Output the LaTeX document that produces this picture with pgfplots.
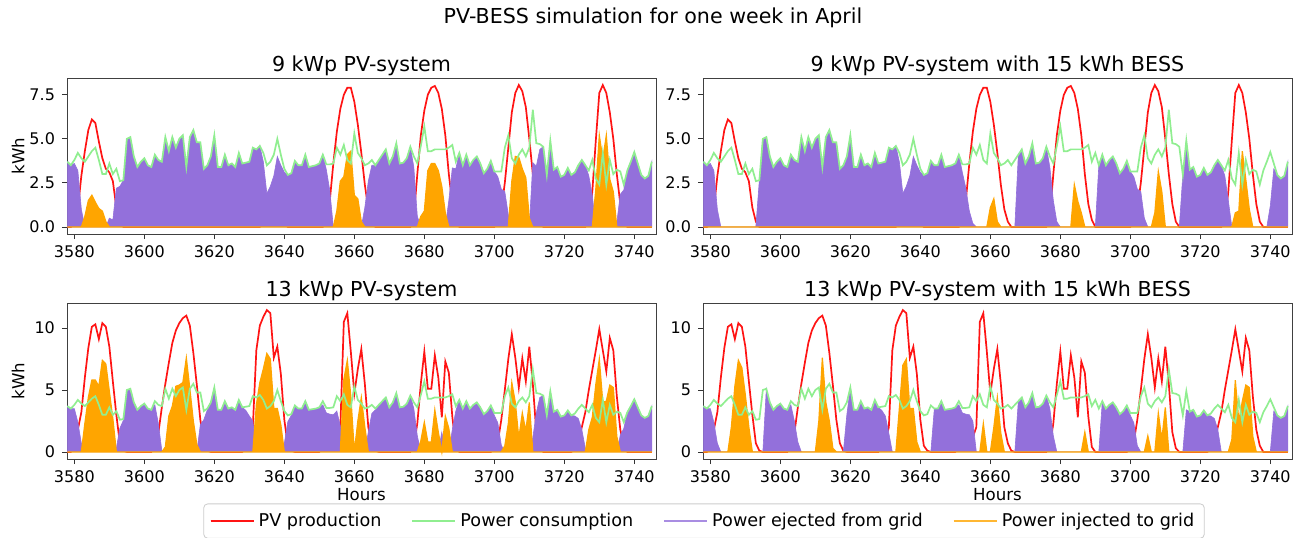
\documentclass[border=0pt]{standalone}
\usepackage{fontspec}
\setmainfont{DejaVu Sans}
\usepackage{pgfplots}
\usepackage{pgfplotstable}
\pgfplotsset{compat=1.18}

\definecolor{pvred}{RGB}{255,20,20}
\definecolor{consgreen}{RGB}{144,238,144}
\definecolor{ejpurple}{RGB}{147,112,219}
\definecolor{inorange}{RGB}{255,165,0}

% hourly values, 9 kWp: consumption, PV, ejected/injected without and with BESS
\pgfplotstableread{
h cons pv ejA inA ejB inB
3578 3.7 0 3.7 0 3.7 0
3579 3.5 0 3.5 0 3.5 0
3580 3.8 0.2 3.6 0 3.6 0
3581 4.2 1.0 3.2 0 3.2 0
3582 3.9 2.9 1.0 0 1.0 0
3583 3.7 4.3 0 0.6 0 0
3584 4.0 5.5 0 1.5 0 0
3585 4.3 6.1 0 1.8 0 0
3586 4.5 5.9 0 1.4 0 0
3587 3.8 4.85 0 1.05 0 0
3588 3.0 3.9 0 0.9 0 0
3589 3.0 3.3 0 0.3 0 0
3590 3.6 3.1 0.5 0 0 0
3591 3.0 2.6 0.4 0 0 0
3592 3.3 1.1 2.2 0 0 0
3593 2.6 0.3 2.3 0 0 0
3594 2.65 0 2.65 0 2.65 0
3595 5.0 0 5.0 0 5.0 0
3596 5.1 0 5.1 0 5.1 0
3597 4.0 0 4.0 0 4.0 0
3598 3.4 0 3.4 0 3.4 0
3599 3.7 0 3.7 0 3.7 0
3600 3.9 0 3.9 0 3.9 0
3601 3.5 0 3.5 0 3.5 0
3602 3.4 0 3.4 0 3.4 0
3603 4.1 0 4.1 0 4.1 0
3604 3.8 0 3.8 0 3.8 0
3605 3.7 0 3.7 0 3.7 0
3606 5.1 0 5.1 0 5.1 0
3607 4.3 0 4.3 0 4.3 0
3608 5.1 0 5.1 0 5.1 0
3609 4.5 0 4.5 0 4.5 0
3610 5.0 0 5.0 0 5.0 0
3611 5.2 0 5.2 0 5.2 0
3612 3.4 0 3.4 0 3.4 0
3613 5.1 0 5.1 0 5.1 0
3614 5.5 0 5.5 0 5.5 0
3615 4.8 0 4.8 0 4.8 0
3616 4.8 0 4.8 0 4.8 0
3617 3.3 0 3.3 0 3.3 0
3618 3.5 0 3.5 0 3.5 0
3619 4.0 0 4.0 0 4.0 0
3620 5.2 0 5.2 0 5.2 0
3621 3.4 0 3.4 0 3.4 0
3622 3.4 0 3.4 0 3.4 0
3623 4.1 0 4.1 0 4.1 0
3624 3.5 0 3.5 0 3.5 0
3625 3.6 0 3.6 0 3.6 0
3626 3.4 0 3.4 0 3.4 0
3627 4.2 0 4.2 0 4.2 0
3628 3.6 0 3.6 0 3.6 0
3629 3.65 0 3.65 0 3.65 0
3630 3.7 0 3.7 0 3.7 0
3631 4.5 0 4.5 0 4.5 0
3632 4.4 0 4.4 0 4.4 0
3633 4.6 0 4.6 0 4.6 0
3634 4.2 0.5 3.7 0 3.7 0
3635 3.5 1.6 1.9 0 1.9 0
3636 3.7 1.4 2.3 0 2.3 0
3637 4.1 1.2 2.9 0 2.9 0
3638 5.0 1.0 4.0 0 4.0 0
3639 4.1 0.6 3.5 0 3.5 0
3640 3.3 0.2 3.1 0 3.1 0
3641 2.95 0 2.95 0 2.95 0
3642 3.05 0 3.05 0 3.05 0
3643 3.75 0 3.75 0 3.75 0
3644 3.5 0 3.5 0 3.5 0
3645 3.5 0 3.5 0 3.5 0
3646 4.1 0 4.1 0 4.1 0
3647 3.4 0 3.4 0 3.4 0
3648 3.45 0 3.45 0 3.45 0
3649 3.5 0 3.5 0 3.5 0
3650 3.6 0 3.6 0 3.6 0
3651 4.1 0 4.1 0 4.1 0
3652 3.55 0.3 3.25 0 3.1 0
3653 3.55 1.5 2.05 0 2.2 0
3654 3.6 3.6 0 0 0.9 0
3655 4.5 5.4 0 0.9 0.2 0
3656 4.1 6.7 0 2.6 0 0
3657 4.65 7.5 0 2.85 0 0
3658 3.8 7.9 0 4.1 0 0
3659 3.6 7.9 0 4.3 0 0
3660 5.3 7.1 0 1.8 0 1.1
3661 4.2 5.8 0 1.6 0 1.6
3662 3.9 4.2 0 0.3 0 0.3
3663 3.5 2.4 1.1 0 0 0
3664 3.6 1.0 2.6 0 0 0
3665 3.8 0.3 3.5 0 0 0
3666 3.5 0 3.5 0 0 0
3667 3.8 0 3.8 0 0 0
3668 4.1 0 4.1 0 4.1 0
3669 4.4 0 4.4 0 4.4 0
3670 3.6 0 3.6 0 3.6 0
3671 4.0 0 4.0 0 4.0 0
3672 4.75 0 4.75 0 4.75 0
3673 3.6 0 3.6 0 3.6 0
3674 3.65 0 3.65 0 3.65 0
3675 3.9 0 3.9 0 3.9 0
3676 4.55 0 4.55 0 4.55 0
3677 4.0 0.6 3.4 0 3.4 0
3678 3.6 3.0 0.6 0 1.5 0
3679 4.6 5.2 0 0.6 0.3 0
3680 5.7 6.6 0 0.9 0 0
3681 4.3 7.5 0 3.2 0 0
3682 4.3 7.9 0 3.6 0 0
3683 4.4 8.0 0 3.6 0 0
3684 4.4 7.6 0 3.2 0 2.4
3685 4.4 6.7 0 2.3 0 1.45
3686 4.4 5.2 0 0.8 0 0.8
3687 4.5 3.0 1.5 0 0 0
3688 4.65 1.3 3.35 0 0 0
3689 3.7 0.4 3.3 0 0 0
3690 4.2 0 4.2 0 0 0
3691 3.5 0 3.5 0 3.5 0
3692 4.1 0 4.1 0 4.1 0
3693 3.5 0 3.5 0 3.5 0
3694 3.8 0 3.8 0 3.8 0
3695 4.0 0 4.0 0 4.0 0
3696 3.6 0 3.6 0 3.6 0
3697 3.05 0 3.05 0 3.05 0
3698 3.3 0 3.3 0 3.3 0
3699 3.75 0 3.75 0 3.75 0
3700 3.15 0 3.15 0 3.15 0
3701 3.15 0.3 2.85 0 2.85 0
3702 3.15 1.0 2.15 0 2.15 0
3703 4.5 2.5 2.0 0 2.0 0
3704 5.2 4.5 0.7 0 0.5 0
3705 3.9 6.5 0 2.6 0 0
3706 3.6 7.6 0 4.0 0 0
3707 4.1 8.05 0 3.95 0 0.8
3708 4.4 7.7 0 3.3 0 3.15
3709 4.0 6.8 0 2.8 0 2.0
3710 4.5 5.0 0 0.5 0 0
3711 6.65 3.0 3.65 0 0 0
3712 4.75 1.3 3.45 0 0 0
3713 4.7 0.3 4.4 0 0 0
3714 4.55 0 4.55 0 0 0
3715 2.95 0 2.95 0 2.95 0
3716 4.9 0 4.9 0 4.9 0
3717 3.25 0 3.25 0 3.25 0
3718 3.4 0 3.4 0 3.4 0
3719 2.85 0 2.85 0 2.85 0
3720 2.95 0 2.95 0 2.95 0
3721 3.35 0 3.35 0 3.35 0
3722 2.95 0 2.95 0 2.95 0
3723 3.1 0 3.1 0 3.1 0
3724 3.5 0 3.5 0 3.5 0
3725 3.8 0 3.8 0 3.8 0
3726 3.5 0 3.5 0 3.5 0
3727 3.2 0.3 2.9 0 2.9 0
3728 3.8 2.0 1.8 0 1.5 0
3729 2.75 4.9 0 2.15 0 0
3730 2.4 7.6 0 5.2 0 0.8
3731 4.2 8.05 0 3.85 0 0.9
3732 2.4 7.6 0 5.2 0 4.3
3733 3.8 6.5 0 2.7 0 2.7
3734 3.0 5.0 0 2.0 0 1.0
3735 3.25 3.0 0.25 0 0 0
3736 3.15 1.3 1.85 0 0 0
3737 2.4 0.3 2.1 0 0 0
3738 3.2 0 3.2 0 0 0
3739 3.7 0 3.7 0 0 0
3740 4.25 0 4.25 0 1.2 0
3741 3.6 0 3.6 0 3.3 0
3742 2.95 0 2.95 0 2.95 0
3743 2.75 0 2.75 0 2.75 0
3744 2.9 0 2.9 0 2.9 0
3745 3.7 0 3.7 0 3.7 0
}\nine

% same for 13 kWp
\pgfplotstableread{
h cons pv ejA inA ejB inB
3578 3.7 0 3.7 0 3.7 0
3579 3.5 0 3.5 0 3.5 0
3580 3.8 0.3 3.5 0 3.5 0
3581 4.2 1.8 2.4 0 2.4 0
3582 3.9 3.2 0.7 0 0.7 0
3583 3.7 6.0 0 2.3 0 0
3584 4.0 8.4 0 4.4 0 0
3585 4.3 10.1 0 5.8 0 0
3586 4.5 10.3 0 5.8 0 2.0
3587 3.8 9.1 0 5.3 0 5.3
3588 3.0 10.4 0 7.4 0 7.4
3589 3.0 10.1 0 7.1 0 6.8
3590 3.6 8.5 0 4.9 0 4.6
3591 3.0 5.7 0 2.7 0 2.0
3592 3.3 3.0 0.3 0 0 0
3593 2.6 0.7 1.9 0 0 0
3594 2.65 0.1 2.55 0 0 0
3595 5.0 0 5.0 0 0 0
3596 5.1 0 5.1 0 5.1 0
3597 4.0 0 4.0 0 4.0 0
3598 3.4 0 3.4 0 3.4 0
3599 3.7 0 3.7 0 3.7 0
3600 3.9 0 3.9 0 3.9 0
3601 3.5 0 3.5 0 3.5 0
3602 3.4 0 3.4 0 3.4 0
3603 4.1 0.3 3.8 0 3.8 0
3604 3.8 1.5 2.3 0 2.5 0
3605 3.7 3.6 0.1 0 0.8 0
3606 5.1 5.5 0 0.4 0 0
3607 4.3 7.2 0 2.9 0 0
3608 5.1 8.8 0 3.7 0 0
3609 4.5 9.8 0 5.3 0 0
3610 5.0 10.4 0 5.4 0 0
3611 5.2 10.8 0 5.6 0 2.5
3612 3.4 11.0 0 7.6 0 7.6
3613 5.1 10.2 0 5.1 0 4.0
3614 5.5 8.0 0 2.5 0 2.5
3615 4.8 5.4 0 0.6 0 0.3
3616 4.8 2.6 2.2 0 0 0
3617 3.3 0.7 2.6 0 0 0
3618 3.5 0.1 3.4 0 0 0
3619 4.0 0 4.0 0 3.0 0
3620 5.2 0 5.2 0 5.2 0
3621 3.4 0 3.4 0 3.4 0
3622 3.4 0 3.4 0 3.4 0
3623 4.1 0 4.1 0 4.1 0
3624 3.5 0 3.5 0 3.5 0
3625 3.6 0 3.6 0 3.6 0
3626 3.4 0 3.4 0 3.4 0
3627 4.2 0 4.2 0 4.2 0
3628 3.6 0 3.6 0 3.6 0
3629 3.65 0.3 3.35 0 3.35 0
3630 3.7 0.8 2.9 0 2.9 0
3631 4.5 2.0 2.5 0 1.5 0
3632 4.4 8.2 0 3.8 0 0
3633 4.6 10.2 0 5.6 0 0
3634 4.2 10.9 0 6.7 0 3.5
3635 3.5 11.45 0 7.95 0 7.0
3636 3.7 11.2 0 7.5 0 7.5
3637 4.1 7.6 0 3.5 0 3.5
3638 5.0 8.5 0 3.5 0 3.5
3639 4.1 6.3 0 2.2 0 0.8
3640 3.3 2.6 0.7 0 0 0
3641 2.95 0.5 2.45 0 0 0
3642 3.05 0.1 2.95 0 0 0
3643 3.75 0 3.75 0 0 0
3644 3.5 0 3.5 0 3.5 0
3645 3.5 0 3.5 0 3.5 0
3646 4.1 0 4.1 0 4.1 0
3647 3.4 0 3.4 0 3.4 0
3648 3.45 0 3.45 0 3.45 0
3649 3.5 0 3.5 0 3.5 0
3650 3.6 0 3.6 0 3.6 0
3651 4.1 0.3 3.8 0 3.8 0
3652 3.55 0.4 3.15 0 3.15 0
3653 3.55 0.5 3.05 0 3.05 0
3654 3.6 0.6 3.0 0 3.0 0
3655 4.5 1.2 3.3 0 2.5 0
3656 4.1 2.0 2.1 0 0 0
3657 4.65 10.5 0 5.85 0 0
3658 3.8 11.2 0 7.4 0 2.3
3659 3.6 8.1 0 4.5 0 0
3660 5.3 4.7 0.6 0 0 0
3661 4.2 6.7 0 2.5 0 2.0
3662 3.9 8.3 0 4.4 0 4.4
3663 3.5 5.5 0 2.0 0 1.5
3664 3.6 2.0 1.6 0 0 0
3665 3.8 0.7 3.1 0 0 0
3666 3.5 0.1 3.4 0 0 0
3667 3.8 0 3.8 0 0 0
3668 4.1 0 4.1 0 4.1 0
3669 4.4 0 4.4 0 4.4 0
3670 3.6 0 3.6 0 3.6 0
3671 4.0 0 4.0 0 4.0 0
3672 4.75 0 4.75 0 4.75 0
3673 3.6 0 3.6 0 3.6 0
3674 3.65 0 3.65 0 3.65 0
3675 3.9 0 3.9 0 3.9 0
3676 4.55 0 4.55 0 4.55 0
3677 4.0 0.5 3.5 0 3.5 0
3678 3.6 2.3 1.3 0 1.3 0
3679 4.6 5.5 0 0.9 0 0
3680 5.7 8.1 0 2.4 0 0
3681 4.3 5.1 0 0.8 0 0
3682 4.3 5.1 0 0.8 0 0
3683 4.4 7.8 0 3.4 0 0
3684 4.4 6.0 0 1.6 0 0
3685 4.4 2.8 1.6 0 0 0
3686 4.4 7.3 0 2.9 0 0
3687 4.5 6.4 0 1.9 0 1.6
3688 4.65 2.85 1.8 0 0 0
3689 3.7 0.4 3.3 0 0 0
3690 4.2 0 4.2 0 0 0
3691 3.5 0 3.5 0 0 0
3692 4.1 0 4.1 0 4.1 0
3693 3.5 0 3.5 0 3.5 0
3694 3.8 0 3.8 0 3.8 0
3695 4.0 0 4.0 0 4.0 0
3696 3.6 0 3.6 0 3.6 0
3697 3.05 0 3.05 0 3.05 0
3698 3.3 0 3.3 0 3.3 0
3699 3.75 0 3.75 0 3.75 0
3700 3.15 0.2 2.95 0 2.95 0
3701 3.15 0.8 2.35 0 2.35 0
3702 3.15 2.6 0.55 0 0.5 0
3703 4.5 5.0 0 0.5 0 0
3704 5.2 7.5 0 2.3 0 0
3705 3.9 9.5 0 5.6 0 1.3
3706 3.6 7.6 0 4.0 0 0
3707 4.1 5.2 0 1.1 0 0
3708 4.4 7.55 0 3.15 0 3.15
3709 4.0 5.7 0 1.7 0 1.0
3710 4.5 8.5 0 4.0 0 3.6
3711 6.65 5.5 1.15 0 0 0
3712 4.75 1.6 3.15 0 0 0
3713 4.7 0.3 4.4 0 0 0
3714 4.55 0 4.55 0 0 0
3715 2.95 0 2.95 0 0 0
3716 4.9 0 4.9 0 3.4 0
3717 3.25 0 3.25 0 3.25 0
3718 3.4 0 3.4 0 3.4 0
3719 2.85 0 2.85 0 2.85 0
3720 2.95 0 2.95 0 2.95 0
3721 3.35 0 3.35 0 3.35 0
3722 2.95 0 2.95 0 2.95 0
3723 3.1 0.2 2.9 0 2.9 0
3724 3.5 0.8 2.7 0 2.7 0
3725 3.8 2.0 1.8 0 1.8 0
3726 3.5 3.2 0.3 0 0 0
3727 3.2 5.0 0 1.8 0 0
3728 3.8 6.6 0 2.8 0 0
3729 2.75 8.2 0 5.45 0 1.0
3730 2.4 9.9 0 7.5 0 5.8
3731 4.2 8.2 0 4.0 0 2.5
3732 2.4 6.5 0 4.1 0 4.1
3733 3.8 9.2 0 5.4 0 5.4
3734 3.0 8.2 0 5.2 0 5.2
3735 3.25 4.5 0 1.25 0 1.25
3736 3.15 1.8 1.35 0 0 0
3737 2.4 0.5 1.9 0 0 0
3738 3.2 0 3.2 0 0 0
3739 3.7 0 3.7 0 0 0
3740 4.25 0 4.25 0 0 0
3741 3.6 0 3.6 0 3.3 0
3742 2.95 0 2.95 0 2.95 0
3743 2.75 0 2.75 0 2.75 0
3744 2.9 0 2.9 0 2.9 0
3745 3.7 0 3.7 0 3.7 0
}\thirteen

\pgfplotsset{
  panel/.style={
    width=294.5pt, height=78pt, scale only axis, anchor=south west,
    xmin=3577.9, xmax=3746.2, xtick={3580,3600,...,3740},
    tick pos=left, tick align=outside, major tick length=2.5pt,
    tick style={black!80, line width=0.4pt},
    axis line style={black!75, line width=0.45pt},
    tick label style={font=\fontsize{8}{9.6}\selectfont},
    /pgf/number format/1000 sep={},
    /pgf/number format/assume math mode=true,
    every axis title/.style={at={(0.5,1)}, anchor=base, yshift=3.5pt,
      font=\fontsize{10.3}{12}\selectfont},
    every axis y label/.style={at={(axis description cs:-0.083,0.5)},
      rotate=90, anchor=center, font=\fontsize{8.3}{10}\selectfont},
    every axis x label/.style={at={(axis description cs:0.5,0)},
      anchor=center, yshift=-18pt, font=\fontsize{8.3}{10}\selectfont},
  },
  toprow/.style={ymin=-0.4, ymax=8.45, ytick={0,2.5,5,7.5},
    yticklabel style={/pgf/number format/fixed,
      /pgf/number format/fixed zerofill, /pgf/number format/precision=1}},
  botrow/.style={ymin=-0.57, ymax=12.02, ytick={0,5,10}},
  pvline/.style={draw=pvred, line width=0.85pt},
  consline/.style={draw=consgreen, line width=0.85pt},
  ejfill/.style={fill=ejpurple, draw=ejpurple, line width=0.3pt},
  infill/.style={fill=inorange, draw=inorange, line width=0.6pt},
}

\begin{document}
\begin{tikzpicture}
\useasboundingbox (0,0) rectangle (655.5pt,268.5pt);
\node[font=\fontsize{10.3}{12}\selectfont] at (326.5pt,259.5pt)
  {PV-BESS simulation for one week in April};

% top left
\begin{axis}[panel, toprow, at={(33.5pt,151.5pt)},
  title={9 kWp PV-system}, ylabel={kWh}]
\addplot[pvline] table[x=h, y=pv] {\nine};
\addplot[ejfill] table[x=h, y=ejA] {\nine} \closedcycle;
\addplot[infill] table[x=h, y=inA] {\nine} \closedcycle;
\addplot[consline] table[x=h, y=cons] {\nine};
\end{axis}

% top right
\begin{axis}[panel, toprow, at={(351.5pt,151.5pt)},
  title={9 kWp PV-system with 15 kWh BESS}]
\addplot[pvline] table[x=h, y=pv] {\nine};
\addplot[ejfill] table[x=h, y=ejB] {\nine} \closedcycle;
\addplot[infill] table[x=h, y=inB] {\nine} \closedcycle;
\addplot[consline] table[x=h, y=cons] {\nine};
\end{axis}

% bottom left, carries the legend
\begin{axis}[panel, botrow, at={(33.5pt,39pt)},
  title={13 kWp PV-system}, ylabel={kWh}, xlabel={Hours},
  legend columns=4,
  legend image code/.code={\draw[#1] (0pt,0pt) -- (18.5pt,0pt);
    \path (0pt,0pt) -- (21.5pt,0pt);},
  legend style={at={(axis description cs:1.0815,-0.285)}, anchor=north,
    draw=black!20, rounded corners=2pt, inner xsep=3pt, inner ysep=2.5pt,
    font=\fontsize{8.8}{10.5}\selectfont,
    /tikz/every even column/.append style={column sep=13pt}}]
\addlegendimage{draw=pvred, line width=1pt}
\addlegendimage{draw=consgreen, line width=1pt}
\addlegendimage{draw=ejpurple!80, line width=1pt}
\addlegendimage{draw=inorange!80, line width=1pt}
\addplot[pvline, forget plot] table[x=h, y=pv] {\thirteen};
\addplot[ejfill, forget plot] table[x=h, y=ejA] {\thirteen} \closedcycle;
\addplot[infill, forget plot] table[x=h, y=inA] {\thirteen} \closedcycle;
\addplot[consline, forget plot] table[x=h, y=cons] {\thirteen};
\legend{PV production, Power consumption, Power ejected from grid, Power injected to grid}
\end{axis}

% bottom right
\begin{axis}[panel, botrow, at={(351.5pt,39pt)},
  title={13 kWp PV-system with 15 kWh BESS}, xlabel={Hours}]
\addplot[pvline] table[x=h, y=pv] {\thirteen};
\addplot[ejfill] table[x=h, y=ejB] {\thirteen} \closedcycle;
\addplot[infill] table[x=h, y=inB] {\thirteen} \closedcycle;
\addplot[consline] table[x=h, y=cons] {\thirteen};
\end{axis}
\end{tikzpicture}
\end{document}
